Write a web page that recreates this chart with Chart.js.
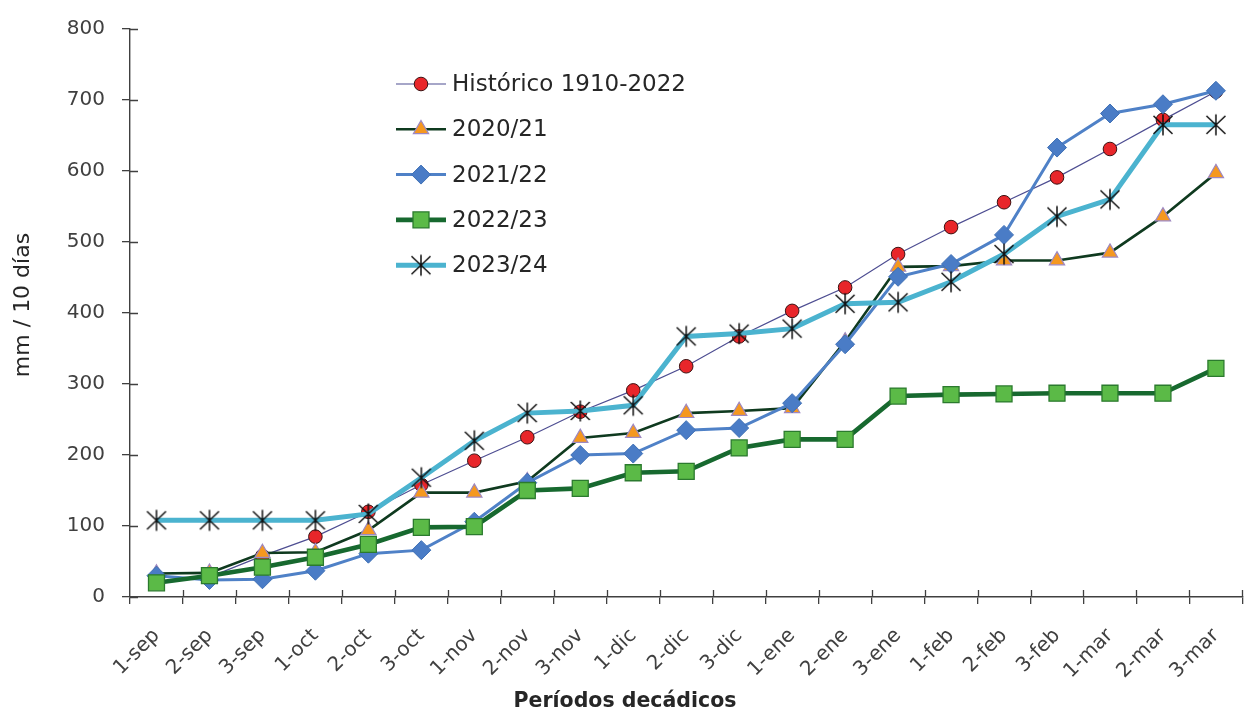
<!DOCTYPE html>
<html lang="es">
<head>
<meta charset="utf-8">
<title>Precipitación acumulada por períodos decádicos</title>
<script src="https://cdn.jsdelivr.net/npm/chart.js@4.4.1/dist/chart.umd.min.js"></script>
<style>
  html, body { margin: 0; padding: 0; background: #ffffff; overflow: hidden; }
  #wrap { width: 1255px; height: 713px; }
</style>
</head>
<body>
<div id="wrap"><canvas id="chart" width="1255" height="713"></canvas></div>
<script>
// Períodos decádicos (septiembre a marzo)
const categories = ['1-sep','2-sep','3-sep','1-oct','2-oct','3-oct','1-nov','2-nov','3-nov',
  '1-dic','2-dic','3-dic','1-ene','2-ene','3-ene','1-feb','2-feb','3-feb','1-mar','2-mar','3-mar'];

// Lluvia acumulada, mm
const historico = [22, 28, 58, 85, 120, 158, 192, 225, 261, 291, 325, 367, 403, 436, 483, 521, 556, 591, 631, 672, 712];
const campana2020_21 = [33, 34, 62, 63, 94, 147, 147, 163, 224, 231, 259, 262, 266, 360, 465, 466, 474, 474, 485, 536, 597];
const campana2021_22 = [30, 24, 25, 37, 61, 66, 106, 161, 200, 202, 235, 238, 273, 356, 451, 469, 510, 633, 681, 694, 713];
const campana2022_23 = [20, 30, 42, 56, 74, 98, 99, 150, 153, 175, 177, 210, 222, 222, 283, 285, 286, 287, 287, 287, 322];
const campana2023_24 = [108, 108, 108, 108, 117, 168, 220, 259, 262, 270, 367, 371, 378, 413, 415, 444, 483, 536, 560, 665, 665];

const seriesNames = ['Histórico 1910-2022', '2020/21', '2021/22', '2022/23', '2023/24'];
const yTicks = [0, 100, 200, 300, 400, 500, 600, 700, 800];
const xTitle = 'Períodos decádicos';
const yTitle = 'mm / 10 días';

const FONT = '"DejaVu Sans", Verdana, sans-serif';

// Asterisk marker: vertical stroke plus an X
function makeAsterisk() {
  const c = document.createElement('canvas');
  c.width = 24; c.height = 24;
  const g = c.getContext('2d');
  g.strokeStyle = '#111111';
  g.lineWidth = 1.5;
  g.beginPath();
  g.moveTo(12, 1.5); g.lineTo(12, 22.5);
  g.moveTo(2.5, 3); g.lineTo(21.5, 21);
  g.moveTo(21.5, 3); g.lineTo(2.5, 21);
  g.stroke();
  return c;
}
const asterisk = makeAsterisk();

const datasets = [
  {
    label: seriesNames[0], data: historico,
    borderColor: '#4e4e92', borderWidth: 1.2,
    pointStyle: 'circle', pointRadius: 6.8,
    pointBackgroundColor: '#e8262a', pointBorderColor: '#3a1212', pointBorderWidth: 1,
    order: 5
  },
  {
    label: seriesNames[1], data: campana2020_21,
    borderColor: '#0f3a1f', borderWidth: 2.6,
    pointStyle: 'triangle', pointRadius: 8.8,
    pointBackgroundColor: '#f5981f', pointBorderColor: '#9d88c2', pointBorderWidth: 1.2,
    order: 4
  },
  {
    label: seriesNames[2], data: campana2021_22,
    borderColor: '#4f81c7', borderWidth: 3,
    pointStyle: 'rectRot', pointRadius: 9.5,
    pointBackgroundColor: '#4a7cc6', pointBorderColor: '#3f70b5', pointBorderWidth: 1,
    order: 3
  },
  {
    label: seriesNames[3], data: campana2022_23,
    borderColor: '#17692f', borderWidth: 4.6,
    pointStyle: 'rect', pointRadius: 11.3,
    pointBackgroundColor: '#5bba47', pointBorderColor: '#2b7a2e', pointBorderWidth: 1.3,
    order: 2
  },
  {
    label: seriesNames[4], data: campana2023_24,
    borderColor: '#4bb3cf', borderWidth: 5,
    pointStyle: asterisk, pointRadius: 10,
    pointBackgroundColor: '#111111', pointBorderColor: '#111111', pointBorderWidth: 1,
    order: 1
  }
];
datasets.forEach(d => { d.tension = 0; d.fill = false; d.pointHoverRadius = d.pointRadius; });

// Tick marks that cross the axis lines (inner half)
const innerTicks = {
  id: 'innerTicks',
  beforeDatasetsDraw(chart) {
    const {ctx, chartArea, scales: {y}} = chart;
    ctx.save();
    ctx.strokeStyle = '#404040';
    ctx.lineWidth = 1.3;
    ctx.beginPath();
    yTicks.forEach(v => {
      const py = Math.round(y.getPixelForValue(v)) + 0.5;
      ctx.moveTo(chartArea.left, py);
      ctx.lineTo(chartArea.left + 8, py);
    });
    const step = (chartArea.right - chartArea.left) / categories.length;
    for (let i = 1; i <= categories.length; i++) {
      const px = Math.round(chartArea.left + i * step) + 0.5;
      ctx.moveTo(px, chartArea.bottom);
      ctx.lineTo(px, chartArea.bottom - 7);
    }
    ctx.stroke();
    ctx.restore();
  }
};

// Axis titles: x title centred on the page, y title beside the axis
const axisTitles = {
  id: 'axisTitles',
  afterDraw(chart) {
    const {ctx} = chart;
    ctx.save();
    ctx.fillStyle = '#262626';
    ctx.textAlign = 'center';
    ctx.textBaseline = 'middle';
    ctx.font = 'bold 20.5px ' + FONT;
    ctx.fillText(xTitle, 625, 702);
    ctx.translate(23, 305);
    ctx.rotate(-Math.PI / 2);
    ctx.font = '22px ' + FONT;
    ctx.fillText(yTitle, 0, 0);
    ctx.restore();
  }
};

// Legend drawn inside the plot area
const insetLegend = {
  id: 'insetLegend',
  afterDatasetsDraw(chart) {
    const {ctx} = chart;
    const x0 = 396, x1 = 446, tx = 452, y0 = 84, dy = 45.3;
    ctx.save();
    chart.data.datasets.forEach((d, i) => {
      const yy = y0 + i * dy;
      ctx.strokeStyle = d.borderColor;
      ctx.lineWidth = d.borderWidth;
      ctx.beginPath();
      ctx.moveTo(x0, yy); ctx.lineTo(x1, yy);
      ctx.stroke();
      ctx.fillStyle = d.pointBackgroundColor;
      ctx.strokeStyle = d.pointBorderColor;
      ctx.lineWidth = d.pointBorderWidth;
      Chart.helpers.drawPoint(ctx, {
        pointStyle: d.pointStyle, radius: d.pointRadius, rotation: 0, borderWidth: d.pointBorderWidth
      }, (x0 + x1) / 2, yy);
      ctx.fillStyle = '#262626';
      ctx.font = '23px ' + FONT;
      ctx.textBaseline = 'middle';
      ctx.textAlign = 'left';
      ctx.fillText(d.label, tx, yy + 1);
    });
    ctx.restore();
  }
};

new Chart(document.getElementById('chart'), {
  type: 'line',
  data: { labels: categories, datasets },
  options: {
    responsive: false,
    devicePixelRatio: 1,
    animation: false,
    layout: { padding: { top: 26, right: 0, bottom: 0, left: 0 } },
    plugins: { legend: { display: false }, tooltip: { enabled: false } },
    scales: {
      x: {
        type: 'category',
        offset: true,
        grid: { display: true, drawOnChartArea: false, drawTicks: true, tickLength: 7, offset: true,
                color: '#404040', lineWidth: 1.3 },
        border: { display: true, color: '#404040', width: 1.4 },
        ticks: { color: '#404040', font: { family: FONT, size: 20 }, minRotation: 45, maxRotation: 45,
                 padding: 20, autoSkip: false },
        title: { display: false },
        afterFit(scale) { scale.height = 116; }
      },
      y: {
        min: 0, max: 800,
        grid: { display: true, drawOnChartArea: false, drawTicks: true, tickLength: 8,
                color: '#404040', lineWidth: 1.3 },
        border: { display: true, color: '#404040', width: 1.4 },
        ticks: { stepSize: 100, color: '#404040', font: { family: FONT, size: 20 }, padding: 17 },
        title: { display: false },
        afterFit(scale) { scale.width = 130; }
      }
    }
  },
  plugins: [innerTicks, insetLegend, axisTitles]
});
</script>
</body>
</html>
